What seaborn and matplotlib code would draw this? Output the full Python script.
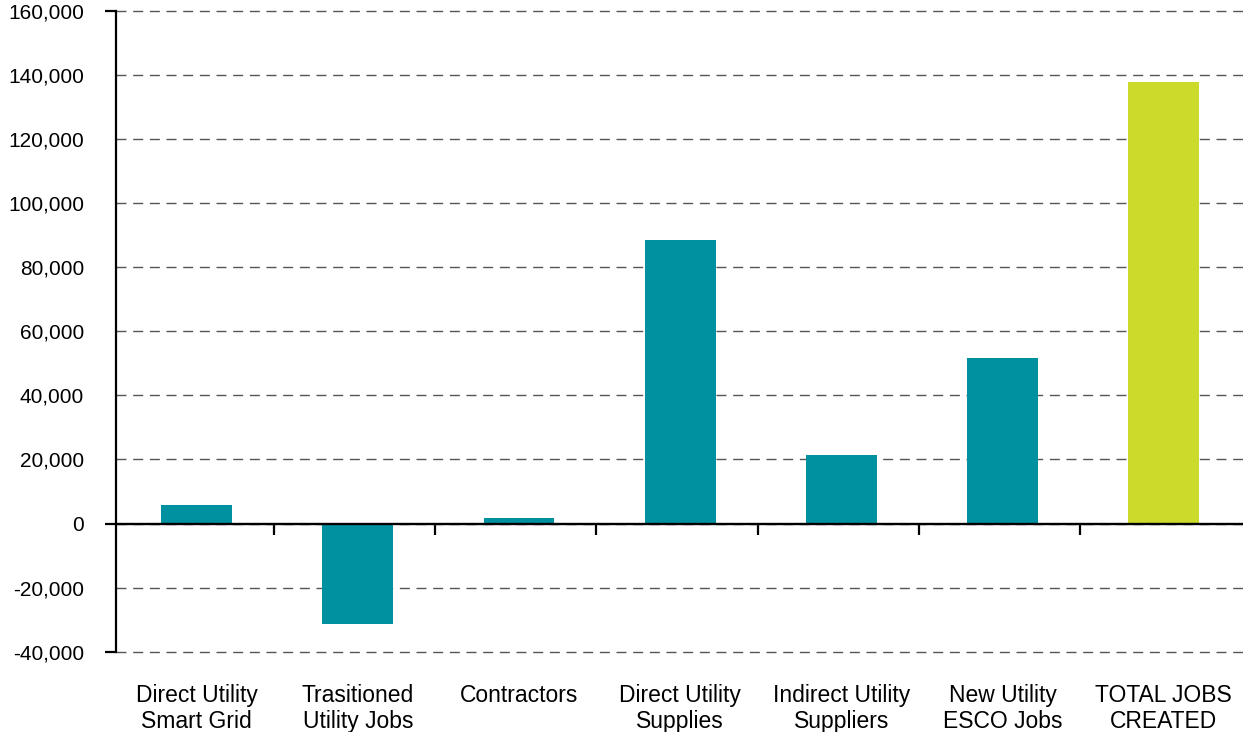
import matplotlib
matplotlib.use("Agg")
import matplotlib.pyplot as plt
import seaborn as sns
import pandas as pd
from matplotlib.ticker import FuncFormatter

categories = [
    "Direct Utility\nSmart Grid",
    "Trasitioned\nUtility Jobs",
    "Contractors",
    "Direct Utility\nSupplies",
    "Indirect Utility\nSuppliers",
    "New Utility\nESCO Jobs",
    "TOTAL JOBS\nCREATED",
]
jobs = [5900, -31200, 1600, 88400, 21500, 51800, 137800]
bar_colors = ["#0091A1"] * 6 + ["#CCDB2B"]
y_ticks = [-40000, -20000, 0, 20000, 40000, 60000, 80000, 100000, 120000, 140000, 160000]

df = pd.DataFrame({"category": categories, "jobs": jobs})

sns.set_theme(style="white")
plt.rcParams["font.family"] = ["Liberation Sans", "DejaVu Sans"]

fig = plt.figure(figsize=(12.43, 7.32), dpi=100)
ax = fig.add_axes([0.0933, 0.1097, 0.9078, 0.8753])

sns.barplot(data=df, x="category", y="jobs", hue="category",
            palette=bar_colors, legend=False, width=0.44,
            saturation=1, ax=ax, zorder=3, linewidth=0, edgecolor="none")

ax.set_xlim(-0.5, 6.5)
ax.set_ylim(-40000, 160000)
ax.set_yticks(y_ticks)
ax.yaxis.set_major_formatter(FuncFormatter(lambda v, p: f"{int(v):,}"))
ax.set_xlabel("")
ax.set_ylabel("")

# grid
ax.yaxis.grid(True, linestyle=(0, (7.2, 4.8)), color="#555555", linewidth=1.0, zorder=0)
ax.xaxis.grid(False)
ax.set_axisbelow(True)
for gl in ax.get_ygridlines():
    gl.set_clip_on(False)

# spines
for s in ["top", "right", "bottom"]:
    ax.spines[s].set_visible(False)
ax.spines["left"].set_color("black")
ax.spines["left"].set_linewidth(1.6)
ax.spines["left"].set_zorder(5)

# y ticks: labels only, with small marks at extremes and zero
ax.yaxis.remove_overlapping_locs = False
ax.tick_params(axis="y", which="major", left=False, length=0, pad=23, labelsize=15, labelcolor="black")
ax.set_yticks([-40000, 0, 160000], minor=True)
ax.tick_params(axis="y", which="minor", left=True, length=8, width=1.6, color="black")

# x labels at bottom
ax.tick_params(axis="x", which="major", length=0, pad=23, labelsize=16.5, labelcolor="black")
for lbl in ax.get_xticklabels():
    lbl.set_linespacing(1.17)

# zero line
ax.axhline(0, color="black", linewidth=1.7, zorder=6)

# boundary ticks on the zero line
sec = ax.secondary_xaxis(0.2)
sec.spines["bottom"].set_visible(False)
sec.set_xticks([k + 0.48 for k in range(6)])
sec.set_xticklabels([])
sec.tick_params(axis="x", bottom=True, length=8, width=1.6, color="black", direction="out")

fig.savefig("out.png", dpi=100)
